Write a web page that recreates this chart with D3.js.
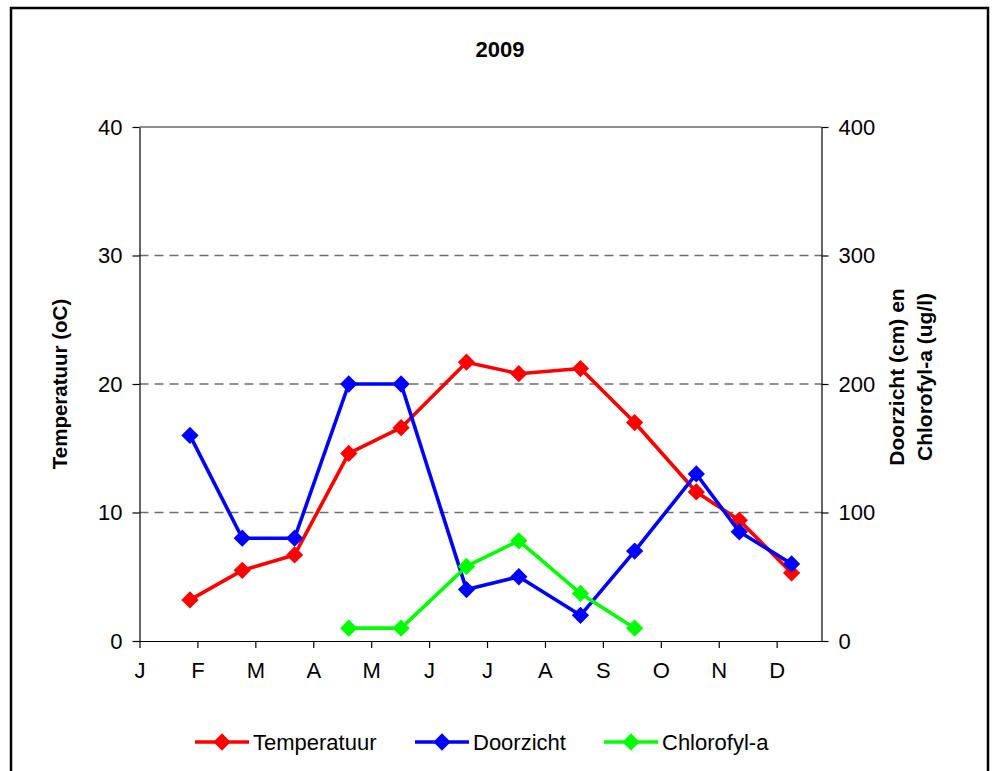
<!DOCTYPE html>
<html>
<head>
<meta charset="utf-8">
<script src="https://cdn.jsdelivr.net/npm/d3@7"></script>
<style>
  html, body { margin: 0; padding: 0; background: #fff; }
  svg { display: block; font-family: Arial, "Liberation Sans", sans-serif; }
</style>
</head>
<body>
<svg id="chart" width="998" height="771"></svg>
<script>
// Sampling dates (2009)
const sampleDates = [
  "2009-01-28", "2009-02-25", "2009-03-25", "2009-04-23", "2009-05-21", "2009-06-25",
  "2009-07-23", "2009-08-25", "2009-09-23", "2009-10-26", "2009-11-18", "2009-12-16"
];
// Water temperature (°C), left axis
const temperatuur = [3.2, 5.5, 6.7, 14.6, 16.6, 21.7, 20.8, 21.2, 17.0, 11.6, 9.4, 5.3];
// Secchi depth (cm), right axis
const doorzicht = [160, 80, 80, 200, 200, 40, 50, 20, 70, 130, 85, 60];
// Chlorophyll-a (ug/l), right axis; not measured in winter
const chlorofyl = [null, null, null, 10, 10, 58, 78, 37, 10, null, null, null];

const monthLabels = ["J", "F", "M", "A", "M", "J", "J", "A", "S", "O", "N", "D"];
const leftTicks = [0, 10, 20, 30, 40];
const rightTicks = [0, 100, 200, 300, 400];

const parse = d3.timeParse("%Y-%m-%d");
const dates = sampleDates.map(parse);
const yearStart = parse("2009-01-01");
const yearEnd = parse("2010-01-01");

const svg = d3.select("#chart");
const plot = { left: 139.5, right: 821.5, top: 127, bottom: 641 };

// Outer frame
svg.append("rect")
  .attr("x", 11).attr("y", 8).attr("width", 977).attr("height", 820)
  .attr("fill", "none").attr("stroke", "#000").attr("stroke-width", 2.5);

const x = d3.scaleTime().domain([yearStart, yearEnd]).range([plot.left, plot.right]);
const yL = d3.scaleLinear().domain([0, 40]).range([plot.bottom, plot.top]);
const yR = d3.scaleLinear().domain([0, 400]).range([plot.bottom, plot.top]);

// Month ticks every 31 days from 1 January
const monthTicks = monthLabels.map((_, i) => d3.timeDay.offset(yearStart, 31 * i));

// Horizontal gridlines
svg.append("g").selectAll("line")
  .data(leftTicks.filter(t => t > 0 && t < 40))
  .join("line")
  .attr("x1", plot.left).attr("x2", plot.right)
  .attr("y1", d => yL(d)).attr("y2", d => yL(d))
  .attr("stroke", "#6e6e6e").attr("stroke-width", 1.5)
  .attr("stroke-dasharray", "9,6");
svg.append("line")
  .attr("x1", plot.left).attr("x2", plot.right)
  .attr("y1", yL(40)).attr("y2", yL(40))
  .attr("stroke", "#6a6a6a").attr("stroke-width", 1.6);

// Axes
const axisStyle = g => {
  g.selectAll(".domain").attr("stroke", "#000").attr("stroke-width", 1.2);
  g.selectAll(".tick line").attr("stroke", "#000").attr("stroke-width", 1.2);
  g.selectAll(".tick text").attr("fill", "#000").attr("font-size", 22)
    .attr("font-family", "Arial, 'Liberation Sans', sans-serif");
};

svg.append("g")
  .attr("transform", `translate(0,${plot.bottom})`)
  .call(d3.axisBottom(x).tickValues(monthTicks).tickSize(7).tickSizeOuter(0).tickPadding(14)
    .tickFormat((d, i) => monthLabels[i]))
  .call(axisStyle);

svg.append("g")
  .attr("transform", `translate(${plot.left},0)`)
  .call(d3.axisLeft(yL).tickValues(leftTicks).tickSize(7).tickSizeOuter(0).tickPadding(10))
  .call(axisStyle);

svg.append("g")
  .attr("transform", `translate(${plot.right},0)`)
  .call(d3.axisRight(yR).tickValues(rightTicks).tickSize(7).tickSizeOuter(0).tickPadding(10))
  .call(axisStyle);

// Titles
svg.append("text")
  .attr("x", 500).attr("y", 57).attr("text-anchor", "middle")
  .attr("font-size", 22).attr("font-weight", "bold").text("2009");

svg.append("text")
  .attr("transform", `translate(67,${(plot.top + plot.bottom) / 2}) rotate(-90)`)
  .attr("text-anchor", "middle")
  .attr("font-size", 20.5).attr("font-weight", "bold").text("Temperatuur (oC)");

const rightTitle = svg.append("text")
  .attr("transform", `translate(897,${(plot.top + plot.bottom) / 2 - 7}) rotate(-90)`)
  .attr("text-anchor", "middle")
  .attr("font-size", 21).attr("font-weight", "bold");
rightTitle.append("tspan").attr("x", 0).attr("dy", 7).text("Doorzicht (cm) en");
rightTitle.append("tspan").attr("x", 0).attr("dy", 28).text("Chlorofyl-a (ug/l)");

// Series
const series = [
  { name: "Temperatuur", color: "#ff0000", values: temperatuur, y: yL },
  { name: "Doorzicht", color: "#0000ff", values: doorzicht, y: yR },
  { name: "Chlorofyl-a", color: "#00ff00", values: chlorofyl, y: yR }
];

const diamond = d3.symbol().type(d3.symbolDiamond2).size(190);

series.forEach(s => {
  const pts = dates.map((d, i) => ({ date: d, v: s.values[i] }));
  const line = d3.line()
    .defined(p => p.v !== null)
    .x(p => x(p.date)).y(p => s.y(p.v));
  const g = svg.append("g");
  g.append("path")
    .datum(pts)
    .attr("d", line)
    .attr("fill", "none").attr("stroke", s.color).attr("stroke-width", 3.6)
    .attr("stroke-linejoin", "round");
  g.selectAll("path.pt")
    .data(pts.filter(p => p.v !== null))
    .join("path")
    .attr("class", "pt")
    .attr("d", diamond)
    .attr("transform", p => `translate(${x(p.date)},${s.y(p.v)})`)
    .attr("fill", s.color);
});

// Legend
const legendX = [195, 415, 604];
const legend = svg.append("g");
series.forEach((s, i) => {
  const lx = legendX[i];
  legend.append("line")
    .attr("x1", lx).attr("x2", lx + 54).attr("y1", 742).attr("y2", 742)
    .attr("stroke", s.color).attr("stroke-width", 3.6);
  legend.append("path")
    .attr("d", diamond)
    .attr("transform", `translate(${lx + 27},742)`)
    .attr("fill", s.color);
  legend.append("text")
    .attr("x", lx + 58).attr("y", 750)
    .attr("font-size", 22).text(s.name);
});
</script>
</body>
</html>
